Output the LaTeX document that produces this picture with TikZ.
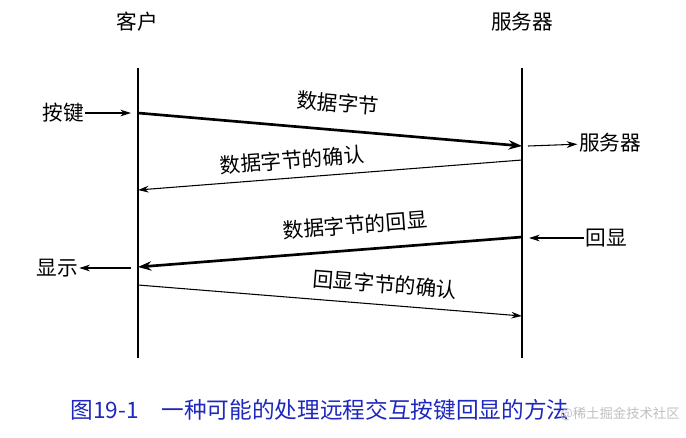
\documentclass[tikz,border=0pt]{standalone}
\usepackage{fontspec}
\newfontfamily\cjk{Noto Sans CJK SC}
\usetikzlibrary{arrows.meta}
\begin{document}
\begin{tikzpicture}[x=0.75pt,y=-0.75pt,
  lbl/.style={font=\cjk\fontsize{15.5}{17}\selectfont,inner sep=1pt},
  thin/.style={line width=0.8pt,-{Stealth[length=8pt,width=5pt]}},
  thick/.style={line width=2pt,-{Stealth[length=10pt,width=7pt]}},
  axis/.style={line width=0.8pt}]
\useasboundingbox (0,0) rectangle (686,437);
\node[lbl] (c) at (137,22) {客户};
\node[lbl] (s) at (522,22) {服务器};
\coordinate (lt) at (138,68); \coordinate (lb) at (138,358);
\coordinate (rt) at (522,68); \coordinate (rb) at (522,358);
\draw[axis] (lt) -- (lb); \draw[axis] (rt) -- (rb);
\node[lbl] (k) at (63,113) {按键};
\coordinate (k2) at (131,113);
\draw[thin] (k) -- (k2);
\coordinate (a1) at (138,113); \coordinate (b1) at (522,146);
\draw[thick] (a1) -- (b1);
\node[lbl,rotate=-4.9] (t1) at (338,103) {数据字节};
\coordinate (sv0) at (528,146);
\node[lbl] (sv) at (610,143) {服务器};
\draw[thin] (sv0) -- (sv);
\coordinate (a2) at (522,160); \coordinate (b2) at (138,190);
\draw[thin] (a2) -- (b2);
\node[lbl,rotate=4.5] (t2) at (292,160) {数据字节的确认};
\node[lbl] (e) at (606,238) {回显};
\coordinate (e2) at (529,238);
\draw[thin] (e) -- (e2);
\coordinate (a3) at (522,237); \coordinate (b3) at (138,267);
\draw[thick] (a3) -- (b3);
\node[lbl,rotate=4.5] (t3) at (355,225) {数据字节的回显};
\node[lbl] (d) at (57,268) {显示};
\coordinate (d0) at (131,268);
\draw[thin] (d0) -- (d);
\coordinate (a4) at (138,285); \coordinate (b4) at (522,316);
\draw[thin] (a4) -- (b4);
\node[lbl,rotate=-4.6] (t4) at (385,284) {回显字节的确认};
\node[font=\cjk\fontsize{17}{19}\selectfont,text={rgb,255:red,30;green,40;blue,190}] (cap) at (320,410) {图19-1\quad 一种可能的处理远程交互按键回显的方法};
\node[font=\cjk\fontsize{10}{11}\selectfont,text=black!25] (wm) at (620,414) {@稀土掘金技术社区};
\end{tikzpicture}
\end{document}
